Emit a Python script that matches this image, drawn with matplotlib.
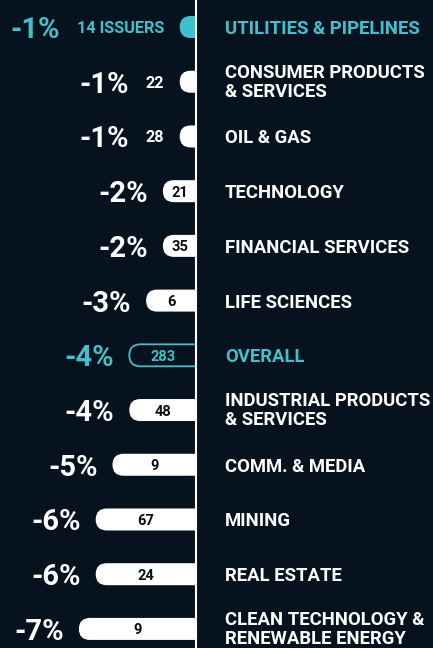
import matplotlib
matplotlib.use("Agg")
import matplotlib.pyplot as plt
from matplotlib.patches import FancyBboxPatch, Rectangle

sectors = ["UTILITIES & PIPELINES", "CONSUMER PRODUCTS\n& SERVICES", "OIL & GAS",
           "TECHNOLOGY", "FINANCIAL SERVICES", "LIFE SCIENCES", "OVERALL",
           "INDUSTRIAL PRODUCTS\n& SERVICES", "COMM. & MEDIA", "MINING",
           "REAL ESTATE", "CLEAN TECHNOLOGY &\nRENEWABLE ENERGY"]
changes = [-1, -1, -1, -2, -2, -3, -4, -4, -5, -6, -6, -7]
issuers = [14, 22, 28, 21, 35, 6, 283, 48, 9, 67, 24, 9]
highlight = ["UTILITIES & PIPELINES", "OVERALL"]

BG = "#06131e"
TEAL = "#3fc0cb"
WHITE = "#ffffff"
DARK = "#050d14"
FONT = "Roboto"

W, H = 433, 648
fig = plt.figure(figsize=(W / 100, H / 100), dpi=100, facecolor=BG)
ax = fig.add_axes([0, 0, 1, 1])
ax.set_facecolor(BG)
ax.axis("off")

px_x = 16.8      # pixels per 1 %
x0 = 196.5       # pixel position of zero line
px_y = 54.72     # pixels per row
y0 = 27.0        # pixel position of first row
ax.set_xlim(-x0 / px_x, (W - x0) / px_x)
ax.set_ylim((H - y0) / px_y, -y0 / px_y)

bar_h = 22 / px_y
aspect = px_x / px_y
r = 11 / px_x

clip = Rectangle((-x0 / px_x, -5), x0 / px_x, 30, transform=ax.transData)

fig.canvas.draw()
renderer = fig.canvas.get_renderer()

for i, (name, v, n) in enumerate(zip(sectors, changes, issuers)):
    overall = name == "OVERALL"
    util = name == "UTILITIES & PIPELINES"
    col = TEAL if name in highlight else WHITE
    if overall:
        fc, ec, lw = BG, TEAL, 1.3
    else:
        fc, ec, lw = col, "none", 0
    p = FancyBboxPatch((v, i - bar_h / 2), -v + 1.5, bar_h,
                       boxstyle=f"round,pad=0,rounding_size={r}",
                       mutation_aspect=aspect, fc=fc, ec=ec, lw=lw,
                       transform=ax.transData, zorder=2)
    ax.add_patch(p)
    p.set_clip_path(clip)

    inside = -v >= 2
    if inside:
        ax.text(v / 2, i, str(n), ha="center", va="center_baseline",
                color=TEAL if overall else DARK, fontsize=10.5,
                fontweight="bold", family=FONT, zorder=3)
        left_px = ax.transData.transform((v, i))[0]
        pct_x = left_px - 15
    else:
        label = f"{n} ISSUERS" if util else str(n)
        t = ax.annotate(label, (v, i), xytext=(-11, 0), textcoords="offset points",
                        ha="right", va="center_baseline", color=col, fontsize=11.7,
                        fontweight="bold", family=FONT, zorder=3)
        bb = t.get_window_extent(renderer)
        pct_x = bb.x0 - 17
    xd = ax.transData.inverted().transform((pct_x, 0))[0]
    ax.text(xd, i, f"{v}%", ha="right", va="center_baseline", color=col,
            fontsize=21, fontweight="bold", family=FONT, zorder=3)

    two_line = "\n" in name
    ax.annotate(name, (0, i), xytext=(20.5, 1.5 if two_line else 0),
                textcoords="offset points",
                ha="left", va="center_baseline", color=col, fontsize=13.3,
                fontweight="bold", family=FONT, linespacing=1.08, zorder=3)

ax.axvline(0, color=WHITE, lw=1.5, zorder=4)

fig.savefig("out.png", dpi=100, facecolor=BG)
